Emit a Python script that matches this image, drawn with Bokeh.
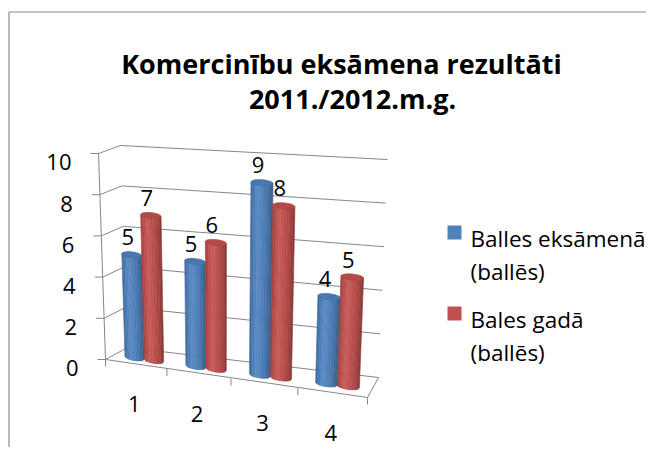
import numpy as np
from bokeh.plotting import figure
from bokeh.models import Range1d
from bokeh.core.properties import value
from bokeh.embed import file_html
from bokeh.resources import INLINE

# ---------------- data ----------------
title_lines = ["Komercinību eksāmena rezultāti", "2011./2012.m.g."]
categories = ["1", "2", "3", "4"]
series_labels = [["Balles eksāmenā", "(ballēs)"], ["Bales gadā", "(ballēs)"]]
balles_eksamena = [5, 5, 9, 4]
bales_gada = [7, 6, 8, 5]
y_ticks = [0, 2, 4, 6, 8, 10]
y_max = 10
series_values = [balles_eksamena, bales_gada]
series_colors = ["#4F81BD", "#C0504D"]

FONT = "Open Sans"
GRID = "#868686"

# ---------------- oblique 3D projection (category u 0..1, depth d 0..1, value v) ----------------
def proj(u, d, v):
    u = np.asarray(u, dtype=float)
    t = np.asarray(v, dtype=float) / y_max
    xf = 105 + 240 * u + 22 * u * u
    xb = 127 + 231 * u + 20 * u * u
    x = xf + (xb - xf) * d + t * (-7 + 16 * u)
    yf = (359 + 38 * u) * (1 - t) + (153 + 22 * u) * t
    yb = (347 + 30 * u) * (1 - t) + (145 + 14 * u) * t
    y = yf + (yb - yf) * d
    return x, y

W, H = 646, 447
p = figure(width=W, height=H, x_range=Range1d(0, W), y_range=Range1d(H, 0),
           output_backend="svg", toolbar_location=None,
           x_axis_location=None, y_axis_location=None, min_border=0)
p.outline_line_color = None
p.grid.grid_line_color = None
p.background_fill_color = "white"
p.border_fill_color = "white"

# chart area border (top and left visible)
p.line([8.5, W], [11.5, 11.5], line_color="#8A8A8A", line_width=1.2)
p.line([8.5, 8.5], [11.5, H], line_color="#8A8A8A", line_width=1.2)

# ---------------- walls & gridlines ----------------
for v in y_ticks:
    x0, y0 = proj(0, 0, v)
    x1, y1 = proj(0, 1, v)
    x2, y2 = proj(1, 1, v)
    p.line([float(x0), float(x1), float(x2)], [float(y0), float(y1), float(y2)],
           line_color=GRID, line_width=1)
    p.line([float(x0) - 8, float(x0)], [float(y0), float(y0)], line_color=GRID, line_width=1)

# value axis line
ax0, ay0 = proj(0, 0, 0)
ax1, ay1 = proj(0, 0, y_max)
p.line([float(ax0), float(ax1)], [float(ay0), float(ay1)], line_color=GRID, line_width=1)

# floor front edge (category axis) and right edge
fx0, fy0 = proj(0, 0, 0)
fx1, fy1 = proj(1, 0, 0)
bx1, by1 = proj(1, 1, 0)
p.line([float(fx0), float(fx1), float(bx1)], [float(fy0), float(fy1), float(by1)],
       line_color=GRID, line_width=1)
n_cat = len(categories)
for k in range(n_cat + 1):
    tx, ty = proj(k / n_cat, 0, 0)
    p.line([float(tx), float(tx)], [float(ty), float(ty) + 7], line_color=GRID, line_width=1)

# value tick labels
tlx, tly = proj(np.zeros(len(y_ticks)), 0, np.array(y_ticks))
p.text(x=list(tlx - 27), y=list(tly + 8.8), text=[str(t) for t in y_ticks],
       text_font=value(FONT), text_font_size="22px", text_align="right",
       text_baseline="alphabetic", text_color="black")

# category labels
cu = (np.arange(n_cat) + 0.5) / n_cat
clx, cly = proj(cu, 0, 0)
p.text(x=list(clx - 1.5), y=list(cly + 40), text=categories,
       text_font=value(FONT), text_font_size="22px", text_align="center",
       text_baseline="alphabetic", text_color="black")

# ---------------- cylinders ----------------
def shade(hex_color, k):
    c = np.array([int(hex_color[i:i + 2], 16) for i in (1, 3, 5)], dtype=float)
    if k >= 1:
        c = c + (255 - c) * (k - 1) * 1.2
    else:
        c = c * k
    c = np.clip(c, 0, 255).astype(int)
    return "#%02x%02x%02x" % tuple(c)

prof_f = [-1.0, -0.7, -0.35, 0.0, 0.4, 0.75, 1.0]
prof_k = [0.80, 0.96, 1.06, 1.02, 0.93, 0.82, 0.70]

DEPTH = 0.4
HW = 0.04       # half bar width in category units
EB = 3.0        # ellipse half height (px)
NS = 14

for i in range(n_cat):
    for s, vals in enumerate(series_values):
        v = vals[i]
        uc = (i + 0.5) / n_cat + (s - 0.5) * 2 * HW
        col = series_colors[s]
        xs, ys, cs = [], [], []
        for k in range(NS):
            f1 = -1 + 2 * k / NS
            f2 = f1 + 2 / NS
            fm = (f1 + f2) / 2
            xb1, yb1 = proj(uc + f1 * HW, DEPTH, 0)
            xb2, yb2 = proj(uc + f2 * HW, DEPTH, 0)
            xt1, yt1 = proj(uc + f1 * HW, DEPTH, v)
            xt2, yt2 = proj(uc + f2 * HW, DEPTH, v)
            yb1 = yb1 + EB * np.sqrt(max(0.0, 1 - f1 * f1))
            yb2 = yb2 + EB * np.sqrt(max(0.0, 1 - f2 * f2))
            xs.append([float(xb1), float(xb2), float(xt2), float(xt1)])
            ys.append([float(yb1), float(yb2), float(yt2), float(yt1)])
            cs.append(shade(col, float(np.interp(fm, prof_f, prof_k))))
        p.patches(xs, ys, fill_color=cs, line_color=cs, line_width=0.6)
        th = np.linspace(0, 2 * np.pi, 40)
        ex, ey = proj(uc + HW * np.cos(th), DEPTH, v)
        ey = ey + EB * np.sin(th)
        p.patch(list(ex), list(ey), fill_color=shade(col, 0.93), line_color=shade(col, 0.85), line_width=0.6)

# data labels
for s, vals in enumerate(series_values):
    uc = (np.arange(n_cat) + 0.5) / n_cat + (s - 0.5) * 2 * HW
    lx, ly = proj(uc, DEPTH, np.array(vals))
    p.text(x=list(lx - 4), y=list(ly - 17.5), text=[str(v) for v in vals],
           text_font=value(FONT), text_font_size="22px", text_align="center",
           text_baseline="alphabetic", text_color="black")

# ---------------- title ----------------
p.text(x=[341, 352], y=[62.7, 98.3], text=title_lines,
       text_font=value(FONT), text_font_size="27px", text_font_style="bold",
       text_align="center", text_baseline="alphabetic", text_color="black")

# ---------------- legend ----------------
leg_y = [232, 313]
for s in range(2):
    p.rect(x=[454], y=[leg_y[s]], width=14, height=14, fill_color=series_colors[s],
           line_color=None)
    p.text(x=[470, 470], y=[leg_y[s] + 6, leg_y[s] + 39], text=series_labels[s],
           text_font=value(FONT), text_font_size="22.5px", text_align="left",
           text_baseline="alphabetic", text_color="black")

open("out.html", "w").write(file_html(p, INLINE))
